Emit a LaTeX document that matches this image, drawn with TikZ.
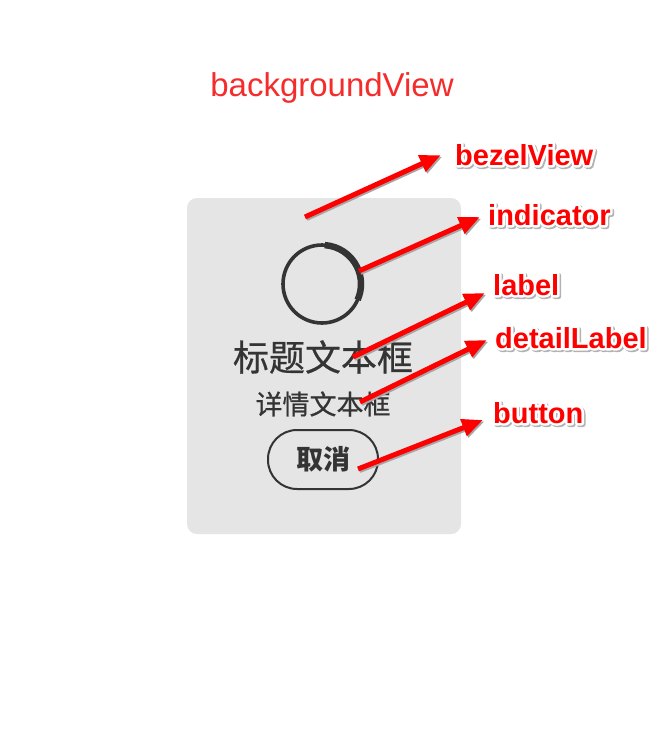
\documentclass[tikz,border=0pt]{standalone}
\usepackage{fontspec}
\setmainfont{Liberation Sans}
\newfontfamily\cjk{Noto Sans CJK SC}
\newfontfamily\cjkfb[FakeBold=0.6]{Noto Sans CJK SC}
\usetikzlibrary{arrows.meta}
\definecolor{bgred}{RGB}{244,44,44}
\definecolor{lblred}{RGB}{255,0,0}
\definecolor{boxgray}{RGB}{229,229,229}
\definecolor{ink}{RGB}{52,52,52}
\tikzset{
  lblsty/.style={font=\fontsize{29}{29}\selectfont\bfseries, inner sep=0pt, anchor=base west},
  callout/.style={line width=5pt, -{Triangle[length=21pt,width=17pt]}},
  cnshadow/.style={callout, draw=black!35},
  cnred/.style={callout, draw=lblred},
}
% stroked text: #1 = stroke rgb, #2 = text
\newcommand\strk[2]{\special{pdf:literal direct 2 Tr 5 w 1 j #1 RG}#2\special{pdf:literal direct 0 Tr}}
\newcommand\outlbl[3]{%
  \node[lblsty, text=black!30, xshift=1.5pt, yshift=-1.5pt] at (#1) {\strk{0.7 0.7 0.7}{#3}};
  \node[lblsty, text=white] at (#1) {\strk{1 1 1}{#3}};
  \node[lblsty, text=lblred] (#2) at (#1) {#3};}
\begin{document}
\begin{tikzpicture}[x=1pt,y=-1pt]
\useasboundingbox (0,0) rectangle (668,752);
\fill[white] (0,0) rectangle (668,752);
% labels
\outlbl{455,165}{lbz}{bezelView}
\outlbl{488,225}{lind}{indicator}
\outlbl{493,295}{llab}{label}
\outlbl{495,348}{ldet}{detailLabel}
\outlbl{493,423}{lbtn}{button}
% title
\node[text=bgred, font=\fontsize{33}{33}\selectfont, inner sep=0pt] (bgv) at (332,88) {backgroundView};
% bezel box
\node[fill=boxgray, rounded corners=10pt, minimum width=274pt, minimum height=336pt, inner sep=0pt] (bezel) at (324,366) {};
% indicator
\coordinate (ind) at (322,284);
\draw[ink, line width=3.6pt] (ind) circle[radius=39];
\draw[ink, line width=6.5pt] (ind) ++(-86:39) arc[start angle=-86, end angle=24, radius=39];
% texts
\node[text=ink, font=\cjkfb\fontsize{36}{36}\selectfont, inner sep=0pt] (title) at (323,357) {标题文本框};
\node[text=ink, font=\cjkfb\fontsize{27}{27}\selectfont, inner sep=0pt] (detail) at (323,404) {详情文本框};
\node[draw=ink, line width=2pt, rounded corners=29pt, minimum width=110pt, minimum height=59pt, inner sep=0pt,
      text=ink, font=\cjk\bfseries\fontsize{27}{27}\selectfont] (btn) at (323,459.5) {取消};
% start points
\coordinate (sbz) at (305,217);
\coordinate (sind) at (359,271);
\coordinate (slab) at (353,357);
\coordinate (sdet) at (360,402);
\coordinate (sbtn) at (358,469);
% arrows (shadow, then red)
\foreach \s/\t/\dx/\dy in {sbz/lbz/-14/10, sind/lind/-8/8, slab/llab/-8/2, sdet/ldet/-8/8, sbtn/lbtn/-10/3}{
  \draw[cnshadow, transform canvas={shift={(1.5pt,-1.5pt)}}] (\s) -- ([xshift=\dx pt, yshift=\dy pt]\t.base west);
  \draw[cnred] (\s) -- ([xshift=\dx pt, yshift=\dy pt]\t.base west);
}
\end{tikzpicture}
\end{document}
